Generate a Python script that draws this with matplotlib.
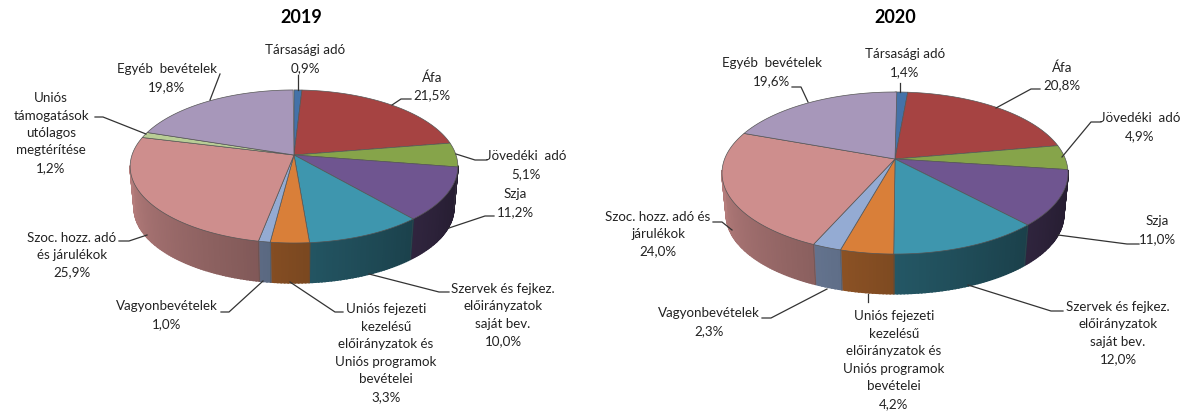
import numpy as np
import matplotlib
matplotlib.use("Agg")
import matplotlib.pyplot as plt
from matplotlib.colors import to_rgb

plt.rcParams['font.family'] = ['Lato', 'DejaVu Sans']

# Chart data
titles = ["2019", "2020"]
values_2019 = [0.9, 21.5, 5.1, 11.2, 10.0, 3.3, 1.0, 25.9, 1.2, 19.8]
values_2020 = [1.4, 20.8, 4.9, 11.0, 12.0, 4.2, 2.3, 24.0, 0.0, 19.6]
labels_2019 = ["Társasági adó", "Áfa", "Jövedéki  adó", "Szja",
               "Szervek és fejkez.\nelőirányzatok\nsaját bev.",
               "Uniós fejezeti\nkezelésű\nelőirányzatok és\nUniós programok\nbevételei",
               "Vagyonbevételek", "Szoc. hozz. adó\nés járulékok",
               "Uniós\ntámogatások\nutólagos\nmegtérítése", "Egyéb  bevételek"]
labels_2020 = list(labels_2019)
labels_2020[7] = "Szoc. hozz. adó és\njárulékok"

colors = ["#4472A8", "#A64342", "#86A44A", "#6F5590", "#3E96AE",
          "#D97F39", "#94ABD3", "#CE8E8D", "#B9CD96", "#A797BA"]

# label centres and leader lines in pixels
text_pos_2019 = [(305, 59), (432, 86), (526, 165), (515, 203), (503, 315),
                 (386, 353), (167, 315), (72, 255), (51, 133), (167, 78)]
text_pos_2020 = [(905, 63), (1062, 76), (1140, 127), (1157, 230), (1118, 333),
                 (894, 360), (709, 322), (658, 234), None, (772, 72)]
leaders_2019 = [[(298, 75), (298, 90)],
                [(411, 99), (401, 99), (392, 105)],
                [(487, 160), (475, 160), (456, 154)],
                [(494, 216), (485, 216), (449, 228)],
                [(449, 292), (439, 292), (369, 274)],
                [(343, 312), (335, 312), (290, 282)],
                [(221, 312), (229, 312), (263, 281)],
                [(119, 241), (129, 241), (147, 235)],
                [(95, 117), (103, 117), (146, 134)],
                [(220, 74), (210, 100)]]
leaders_2020 = [[(900, 83), (900, 92)],
                [(1040, 89), (1031, 89), (996, 108)],
                [(1101, 122), (1091, 122), (1062, 157)],
                [(1139, 244), (1127, 244), (1058, 235)],
                [(1063, 311), (1051, 311), (968, 285)],
                [(868, 294), (868, 302)],
                [(762, 318), (771, 318), (827, 289)],
                [(713, 222), (722, 222), (732, 230)],
                None,
                [(792, 87), (801, 87), (808, 102)]]

fig = plt.figure(figsize=(11.85, 4.12), dpi=100)
ax = fig.add_axes([0, 0, 1, 1])
ax.set_xlim(0, 1185)
ax.set_ylim(412, 0)
ax.axis('off')


def project(theta, cx, cy, a, b, k, scale=1.0, depth=0.0):
    # perspective view of a flat disc, theta clockwise from the top
    w = 1 + k * np.cos(theta)
    return cx + scale * a * np.sin(theta) / w, cy - scale * b * np.cos(theta) / w + depth


def side_shade(theta):
    deg = np.degrees(theta)
    return np.interp(deg, [98, 120, 150, 180, 195, 262], [.33, .37, .47, .58, .64, .88])


def draw_pie(values, cx, cy, a, b, k, depth):
    edges = np.radians(np.concatenate([[0], np.cumsum(values)]) * 3.6)
    lo, hi = np.radians(98), np.radians(262)

    # side wall, drawn in narrow strips so the shade can change along it
    for i, col in enumerate(colors):
        t0, t1 = max(edges[i], lo), min(edges[i + 1], hi)
        if t1 <= t0:
            continue
        steps = np.linspace(t0, t1, max(2, int(np.degrees(t1 - t0)) + 1))
        for s0, s1 in zip(steps[:-1], steps[1:]):
            xu, yu = project(np.array([s0, s1]), cx, cy, a, b, k)
            xl, yl = project(np.array([s1, s0]), cx, cy, a, b, k, 0.975, depth)
            shade = np.array(to_rgb(col)) * side_shade((s0 + s1) / 2)
            ax.fill(np.r_[xu, xl], np.r_[yu, yl], color=shade, lw=1.2, zorder=2)
    for t in edges:
        if lo < t < hi:
            xu, yu = project(t, cx, cy, a, b, k)
            xl, yl = project(t, cx, cy, a, b, k, 0.975, depth)
            ax.plot([xu, xl], [yu, yl], color='#4a4a4a', lw=0.4, alpha=0.6, zorder=3)

    # top face
    for i, col in enumerate(colors):
        if values[i] == 0:
            continue
        t = np.linspace(edges[i], edges[i + 1], max(2, int(values[i] * 3.6) + 2))
        x, y = project(t, cx, cy, a, b, k)
        ax.fill(np.r_[cx, x], np.r_[cy, y], facecolor=col, edgecolor='#555555',
                lw=0.5, joinstyle='round', zorder=4)


def draw_labels(values, labels, text_pos, leaders):
    for val, lab, pos, line in zip(values, labels, text_pos, leaders):
        if val == 0:
            continue
        txt = lab + "\n" + f"{val:.1f}%".replace(".", ",")
        ax.text(pos[0], pos[1], txt, ha='center', va='center', fontsize=9.6,
                color='#222222', linespacing=1.55, zorder=6)
        ax.plot([p[0] for p in line], [p[1] for p in line], color='#333333',
                lw=0.9, zorder=5)


draw_pie(values_2019, 294, 155, 162, 74.8, 0.150, 42)
draw_pie(values_2020, 895, 159, 170.4, 78.6, 0.173, 42)
draw_labels(values_2019, labels_2019, text_pos_2019, leaders_2019)
draw_labels(values_2020, labels_2020, text_pos_2020, leaders_2020)

ax.text(301, 17, titles[0], ha='center', va='center', fontsize=13, fontweight='bold', color='black')
ax.text(895, 17, titles[1], ha='center', va='center', fontsize=13, fontweight='bold', color='black')

fig.savefig("out.png", dpi=100, facecolor='white')
